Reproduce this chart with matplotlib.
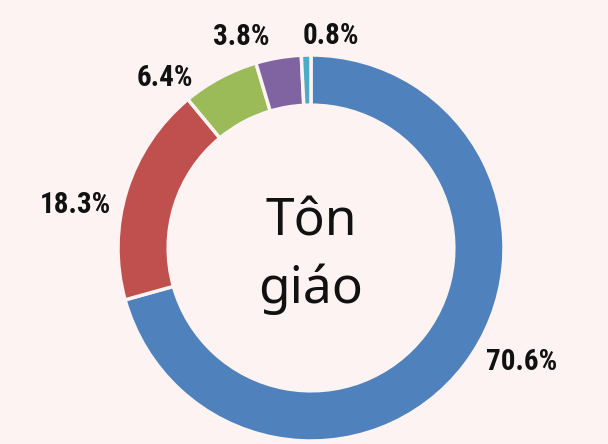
import matplotlib
matplotlib.use("Agg")
import matplotlib.pyplot as plt
from matplotlib import font_manager

categories = ["A", "B", "C", "D", "E"]
values = [70.6, 18.3, 6.4, 3.8, 0.8]
labels = ["70.6%", "18.3%", "6.4%", "3.8%", "0.8%"]
colors = ["#4f81bd", "#c0504d", "#9bbb59", "#8064a2", "#4bacc6"]
center_lines = ["Tôn", "giáo"]

bg = "#fdf3f2"
W, H = 608, 444
cx, cy, R = 311, 248, 193

fig = plt.figure(figsize=(W / 100, H / 100), dpi=100, facecolor=bg)
ax = fig.add_axes([0, 0, 1, 1])
ax.set_facecolor(bg)
ax.axis("off")

wedges, _ = ax.pie(values, startangle=90, counterclock=False, colors=colors,
                   radius=1.0, wedgeprops=dict(width=0.26, edgecolor=bg, linewidth=2.5),
                   normalize=True)
ax.set_xlim(-cx / R, (W - cx) / R)
ax.set_ylim(-(H - cy) / R, cy / R)
ax.set_aspect("auto")

names = {f.name for f in font_manager.fontManager.ttflist}
lab_family = None
for cand in ["Liberation Sans Narrow", "Roboto Condensed", "Open Sans Condensed",
             "Noto Sans Condensed", "DejaVu Sans"]:
    if cand in names:
        lab_family = cand
        break

label_px = [(522, 362), (75, 205), (165, 78), (241, 37), (331, 36)]
for lab, (px, py) in zip(labels, label_px):
    ax.text((px - cx) / R, (cy - py) / R, lab, ha="center", va="center",
            fontsize=21, fontweight="bold", family=lab_family,
            fontstretch="condensed", color="#111111")

ax.text(0, (cy - 235) / R, center_lines[0], ha="center", va="baseline",
        fontsize=37, family="Noto Sans", color="#111111")
ax.text(0, (cy - 303) / R, center_lines[1], ha="center", va="baseline",
        fontsize=37, family="Noto Sans", color="#111111")

fig.savefig("out.png", dpi=100, facecolor=bg)
